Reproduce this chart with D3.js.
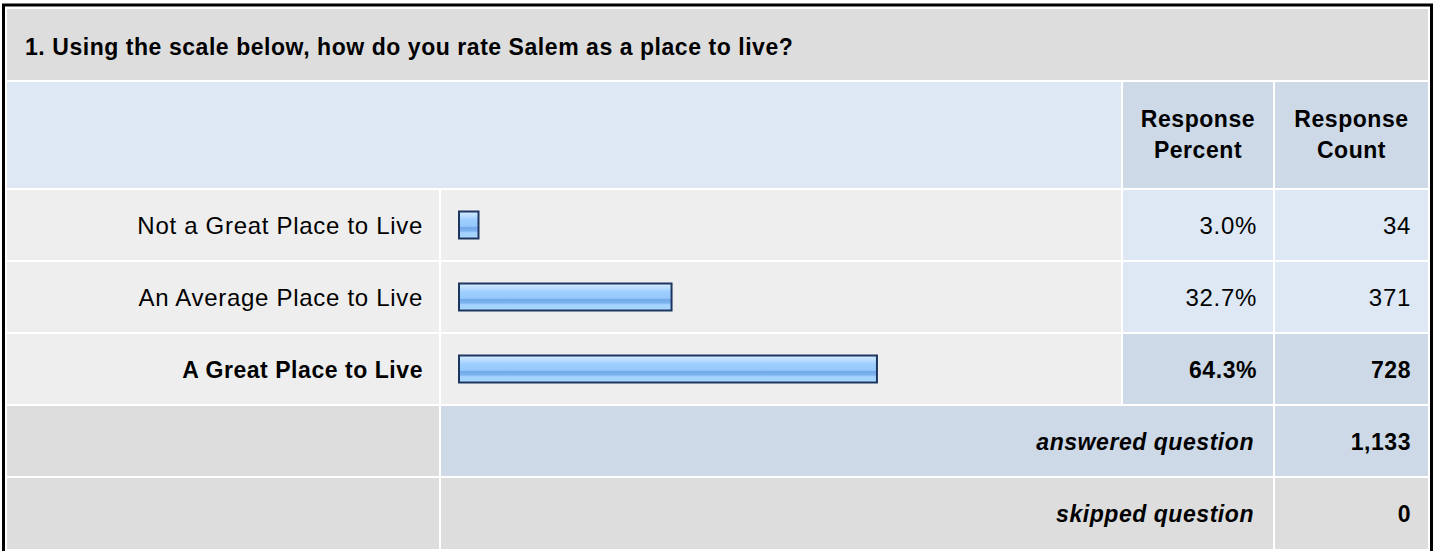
<!DOCTYPE html>
<html>
<head>
<meta charset="utf-8">
<script src="https://cdn.jsdelivr.net/npm/d3@7"></script>
<style>
    body { margin: 0; background: #fff; }
    text { font-family: "Liberation Sans", Arial, sans-serif; fill: #000; }
</style>
</head>
<body>
<div id="chart"></div>
<script>
'use strict';

const question = '1. Using the scale below, how do you rate Salem as a place to live?';
const categories = ['Not a Great Place to Live', 'An Average Place to Live', 'A Great Place to Live'];
const percents = [3.0, 32.7, 64.3];
const counts = [34, 371, 728];
const headerLabels = [['Response', 'Percent'], ['Response', 'Count']];
const answered = 1133;
const skipped = 0;

class SurveyTable {
    constructor(container, width, height) {
        this.width = width;
        this.height = height;

        this.svg = d3.select(container)
            .append('svg')
            .attr('width', width)
            .attr('height', height);

        // column edges (left side) and widths
        this.cols = [
            { x: 7, w: 432 },
            { x: 441, w: 680 },
            { x: 1123, w: 150 },
            { x: 1275, w: 153 }
        ];

        this.scaleX = d3.scaleLinear().domain([0, 100]).range([0, 650]);
        this.rowY = d3.scaleLinear().domain([0, 1]).range([190, 262]);
    }

    cell(x, y, w, h, fill) {
        this.svg.append('rect')
            .attr('x', x).attr('y', y)
            .attr('width', w).attr('height', h)
            .attr('fill', fill);
    }

    label(x, y, str, anchor, bold, italic) {
        this.svg.append('text')
            .attr('x', x).attr('y', y)
            .attr('text-anchor', anchor)
            .style('font-size', bold ? '23px' : '24px')
            .style('font-weight', bold ? 'bold' : 'normal')
            .style('font-style', italic ? 'italic' : 'normal')
            .style('letter-spacing', bold ? '0.55px' : '0.7px')
            .text(str);
    }

    render() {
        const c = this.cols;
        const right = c[3].x + c[3].w;
        const rowH = 70;

        // bar gradient
        const grad = this.svg.append('defs').append('linearGradient')
            .attr('id', 'barGrad')
            .attr('x1', 0).attr('y1', 0).attr('x2', 0).attr('y2', 1);
        [[0, '#d4ebff'], [0.18, '#b8dcff'], [0.3, '#9fcfff'], [0.55, '#96c8fc'],
         [0.58, '#72a8e6'], [0.72, '#7db3ee'], [0.78, '#a2d1ff'], [1, '#acd6ff']]
            .forEach(([o, col]) => grad.append('stop').attr('offset', o).attr('stop-color', col));

        // title row
        this.cell(c[0].x, 9, right - c[0].x, 71, '#dddddd');
        this.label(25, 55, question, 'start', true);

        // header row
        this.cell(c[0].x, 82, c[2].x - 2 - c[0].x, 106, '#dee8f5');
        headerLabels.forEach((lines, i) => {
            const col = c[i + 2];
            this.cell(col.x, 82, col.w, 106, '#cdd9e6');
            lines.forEach((l, j) => this.label(col.x + col.w / 2, 127 + j * 31, l, 'middle', true));
        });

        // data rows
        const maxPct = d3.max(percents);
        categories.forEach((cat, i) => {
            const y = this.rowY(i);
            const mid = y + rowH / 2;
            const top = percents[i] === maxPct;
            this.cell(c[0].x, y, c[0].w, rowH, '#eeeeee');
            this.cell(c[1].x, y, c[1].w, rowH, '#eeeeee');
            this.cell(c[2].x, y, c[2].w, rowH, top ? '#cdd9e6' : '#dee8f5');
            this.cell(c[3].x, y, c[3].w, rowH, top ? '#cdd9e6' : '#dee8f5');

            this.svg.append('rect')
                .attr('x', c[1].x + 18)
                .attr('y', mid - 13.5)
                .attr('width', this.scaleX(percents[i]))
                .attr('height', 27)
                .attr('fill', 'url(#barGrad)')
                .attr('stroke', '#1c3660')
                .attr('stroke-width', 2);

            this.label(c[0].x + c[0].w - 16, mid + 8.5, cat, 'end', top);
            this.label(c[2].x + c[2].w - 16, mid + 8.5, percents[i].toFixed(1) + '%', 'end', top);
            this.label(c[3].x + c[3].w - 17, mid + 8.5, counts[i], 'end', top);
        });

        // summary rows
        const fmt = d3.format(',');
        const summary = [
            ['answered question', answered, '#cdd9e6'],
            ['skipped question', skipped, '#dddddd']
        ];
        summary.forEach(([txt, val, fill], i) => {
            const y = this.rowY(3 + i);
            const mid = y + rowH / 2;
            this.cell(c[0].x, y, c[0].w, rowH + (i === 1 ? 1 : 0), '#dddddd');
            this.cell(c[1].x, y, c[2].x + c[2].w - c[1].x, rowH + (i === 1 ? 1 : 0), fill);
            this.cell(c[3].x, y, c[3].w, rowH + (i === 1 ? 1 : 0), fill);
            this.label(c[2].x + c[2].w - 19, mid + 8.5, txt, 'end', true, true);
            this.label(c[3].x + c[3].w - 17, mid + 8.5, fmt(val), 'end', true);
        });

        // outer frame
        this.svg.append('rect')
            .attr('x', 3.5).attr('y', 5)
            .attr('width', 1428).attr('height', 560)
            .attr('fill', 'none')
            .attr('stroke', '#000')
            .attr('stroke-width', 3);
    }
}

const table = new SurveyTable('#chart', 1435, 551);
table.render();
</script>
</body>
</html>
